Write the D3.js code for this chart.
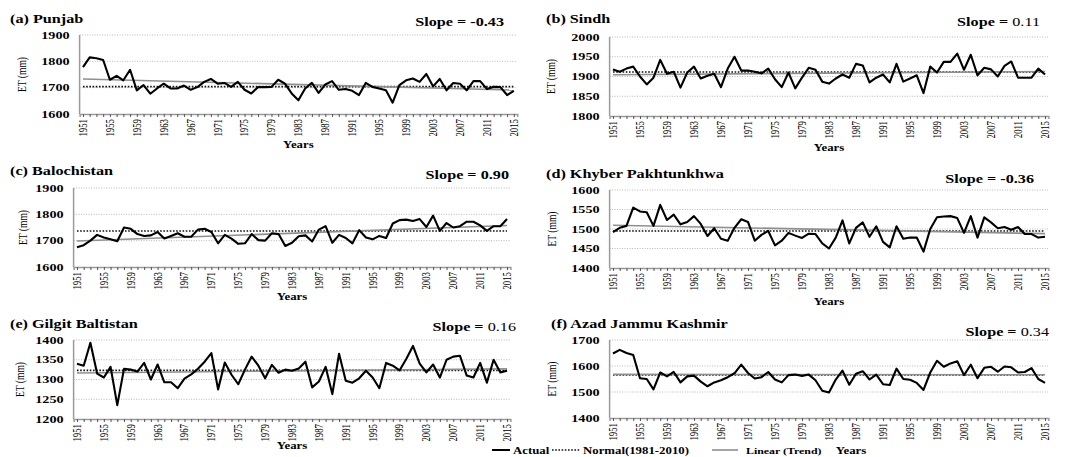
<!DOCTYPE html>
<html>
<head>
<meta charset="utf-8">
<script src="https://cdn.jsdelivr.net/npm/d3@7"></script>
<style>
  body { margin: 0; background: #fff; }
  svg { display: block; }
</style>
</head>
<body>
<svg id="chart" width="1070" height="457"></svg>
<script>
// ---- data: annual evapotranspiration (mm), 1951-2015 ----
const years = d3.range(1951, 2016);
const yearTickLabels = d3.range(1951, 2016, 4);

const punjab = [1778,1815,1812,1805,1730,1745,1728,1768,1690,1710,
  1677,1697,1715,1697,1697,1708,1692,1702,1722,1733,
  1715,1718,1703,1722,1692,1678,1702,1702,1703,1730,
  1715,1678,1652,1697,1718,1680,1712,1725,1692,1695,
  1688,1672,1718,1703,1697,1690,1643,1710,1728,1735,
  1722,1752,1705,1733,1690,1718,1715,1690,1725,1725,
  1695,1703,1702,1672,1688];
const sindh = [1918,1912,1920,1925,1900,1880,1897,1942,1907,1912,
  1872,1910,1925,1895,1902,1907,1873,1920,1950,1915,
  1915,1912,1908,1920,1893,1873,1910,1870,1897,1922,
  1917,1887,1882,1895,1905,1897,1932,1928,1885,1897,
  1905,1885,1932,1887,1895,1903,1858,1925,1910,1937,
  1937,1958,1917,1955,1903,1922,1918,1900,1927,1938,
  1897,1897,1897,1920,1905];
const balochistan = [1675,1683,1700,1722,1712,1705,1698,1750,1745,1725,
  1718,1720,1733,1708,1718,1728,1715,1715,1742,1745,
  1733,1690,1722,1708,1688,1690,1725,1702,1700,1728,
  1725,1680,1692,1717,1720,1697,1742,1755,1692,1722,
  1710,1690,1740,1712,1705,1718,1710,1765,1778,1780,
  1775,1782,1752,1795,1737,1767,1750,1755,1772,1772,
  1758,1737,1755,1755,1782];
const khyber = [1492,1503,1508,1555,1545,1543,1508,1562,1523,1537,
  1512,1518,1533,1513,1482,1502,1475,1470,1503,1525,
  1518,1470,1485,1495,1458,1470,1490,1483,1477,1488,
  1487,1463,1450,1478,1522,1463,1503,1517,1480,1507,
  1467,1453,1507,1475,1478,1478,1442,1500,1530,1532,
  1533,1528,1490,1533,1478,1530,1517,1502,1505,1498,
  1505,1487,1487,1478,1480];
const gilgit = [1340,1335,1393,1315,1305,1332,1235,1327,1325,1320,
  1342,1300,1338,1293,1293,1278,1302,1313,1327,1345,
  1367,1275,1343,1312,1288,1325,1358,1335,1303,1337,
  1317,1325,1322,1328,1345,1280,1295,1332,1263,1365,
  1297,1292,1303,1322,1305,1278,1342,1335,1323,1352,
  1385,1340,1318,1338,1305,1350,1358,1360,1310,1305,
  1342,1292,1350,1318,1322];
const ajk = [1648,1662,1650,1642,1553,1550,1510,1575,1560,1577,
  1537,1560,1563,1540,1522,1537,1545,1557,1572,1605,
  1573,1552,1557,1577,1548,1537,1565,1567,1562,1567,
  1545,1505,1498,1548,1582,1528,1570,1580,1548,1567,
  1530,1527,1590,1550,1547,1535,1508,1575,1620,1597,
  1610,1618,1565,1605,1553,1593,1597,1578,1598,1595,
  1575,1577,1592,1550,1535];

const panelTitles = ["(a) Punjab", "(b) Sindh", "(c) Balochistan",
  "(d) Khyber Pakhtunkhwa", "(e) Gilgit Baltistan", "(f) Azad Jammu  Kashmir"];
const slopeValues = ["-0.43", "0.11", "0.90", "-0.36", "0.16", "0.34"];
const slopeSignificant = [true, false, true, true, false, false];
const yTickValues = [
  [1600, 1700, 1800, 1900],
  [1800, 1850, 1900, 1950, 2000],
  [1600, 1700, 1800, 1900],
  [1400, 1450, 1500, 1550, 1600],
  [1200, 1250, 1300, 1350, 1400],
  [1400, 1500, 1600, 1700]
];
const seriesList = [punjab, sindh, balochistan, khyber, gilgit, ajk];
const normalPeriod = [1981, 2010];
const legendLabels = ["Actual", "Normal(1981-2010)", "Linear (Trend)"];

// ---- layout ----
const FONT = "'Liberation Serif', 'Times New Roman', 'DejaVu Serif', serif";
const SX = 1.35;   // horizontal stretch applied to all lettering
const boxes = [
  { x0: 79.6, x1: 517.2, y0: 35, y1: 114, title: [10, 23], slope: [504, 26], years: 148, etX: 22 },
  { x0: 609.6, x1: 1048.4, y0: 37, y1: 116, title: [546, 23], slope: [1040, 26], years: 151, etX: 551 },
  { x0: 73.6, x1: 510.4, y0: 188, y1: 267, title: [10, 175], slope: [509, 179], years: 300, etX: 23 },
  { x0: 609.6, x1: 1048.4, y0: 190, y1: 268, title: [546, 178], slope: [1034, 183], years: 305, etX: 552 },
  { x0: 73.6, x1: 510.4, y0: 340, y1: 419, title: [10, 328], slope: [516, 331], years: 449, etX: 20 },
  { x0: 609.6, x1: 1048.4, y0: 340, y1: 418, title: [551, 328], slope: [1049, 336], years: null, etX: 552 }
];

const svg = d3.select("#chart").attr("font-family", FONT);

function label(g, x, y, str, opt = {}) {
  const t = g.append("text")
    .attr("transform", `translate(${x},${y}) scale(${SX},1)` + (opt.rotate ? " rotate(-90)" : ""))
    .attr("font-family", FONT)
    .attr("font-size", opt.size || 10)
    .attr("font-weight", opt.bold ? "bold" : "normal")
    .attr("fill", "#000")
    .attr("text-anchor", opt.anchor || "start");
  if (opt.dy) t.attr("dy", opt.dy);
  t.text(str);
  return t;
}

function linearFit(xs, ys) {
  const mx = d3.mean(xs), my = d3.mean(ys);
  let num = 0, den = 0;
  xs.forEach((x, i) => { num += (x - mx) * (ys[i] - my); den += (x - mx) ** 2; });
  const b = num / den;
  return x => my + b * (x - mx);
}

seriesList.forEach((values, p) => {
  const b = boxes[p];
  const ticks = yTickValues[p];
  const g = svg.append("g");

  const x = d3.scalePoint().domain(years).range([b.x0, b.x1]).padding(0.5);
  const y = d3.scaleLinear().domain(d3.extent(ticks)).range([b.y1, b.y0]);

  // gridlines
  g.selectAll("line.grid").data(ticks.slice(1)).join("line")
    .attr("x1", b.x0).attr("x2", b.x1)
    .attr("y1", d => y(d)).attr("y2", d => y(d))
    .attr("stroke", "#b8b8b8").attr("stroke-width", 1)
    .attr("stroke-dasharray", "1,1.5");

  // y axis labels
  ticks.forEach(t => label(g, b.x0 - 10, y(t), t, { size: 10.5, bold: true, anchor: "end", dy: "0.35em" }));

  // x axis: line, yearly ticks, labels every fourth year
  const xAxis = d3.axisBottom(x).tickSize(3).tickFormat("");
  const ax = g.append("g").attr("transform", `translate(0,${b.y1})`).call(xAxis);
  ax.select(".domain").attr("stroke", "#9a9a9a").attr("stroke-width", 1.5);
  ax.selectAll(".tick line").attr("stroke", "#555");
  yearTickLabels.forEach(yr =>
    label(g, x(yr), b.y1 + 5, yr, { size: 8.8, rotate: true, anchor: "end", dy: "0.33em" }));

  // y axis line
  g.append("line").attr("x1", b.x0).attr("x2", b.x0).attr("y1", b.y0).attr("y2", b.y1)
    .attr("stroke", "#9a9a9a").attr("stroke-width", 1.5);

  // normal (mean over reference period)
  const normal = d3.mean(values.filter((v, i) => years[i] >= normalPeriod[0] && years[i] <= normalPeriod[1]));
  g.append("line")
    .attr("x1", x(years[0])).attr("x2", x(years[years.length - 1]))
    .attr("y1", y(normal)).attr("y2", y(normal))
    .attr("stroke", "#111").attr("stroke-width", 1.6).attr("stroke-dasharray", "1.6,1.6");

  // linear trend
  const fit = linearFit(years, values);
  g.append("line")
    .attr("x1", x(years[0])).attr("x2", x(years[years.length - 1]))
    .attr("y1", y(fit(years[0]))).attr("y2", y(fit(years[years.length - 1])))
    .attr("stroke", "#8f8f8f").attr("stroke-width", 1.6);

  // actual series
  g.append("path")
    .datum(values)
    .attr("fill", "none").attr("stroke", "#000").attr("stroke-width", 2.1)
    .attr("stroke-linejoin", "round")
    .attr("d", d3.line().x((d, i) => x(years[i])).y(d => y(d)));

  // titles and annotations
  label(g, b.title[0], b.title[1], panelTitles[p], { size: 12, bold: true });
  const s = label(g, b.slope[0], b.slope[1], "Slope = ", { size: 12, bold: true, anchor: "end" });
  s.append("tspan").attr("font-weight", slopeSignificant[p] ? "bold" : "normal").text(slopeValues[p]);
  label(g, b.etX, (b.y0 + b.y1) / 2, "ET (mm)", { size: 9.5, rotate: true, anchor: "middle", dy: "0.33em" });
  if (b.years !== null) label(g, (b.x0 + b.x1) / 2, b.years, "Years", { size: 9.5, bold: true, anchor: "middle" });
});

// legend along the bottom
const lg = svg.append("g");
const ly = 450;
lg.append("line").attr("x1", 492).attr("x2", 510).attr("y1", ly).attr("y2", ly)
  .attr("stroke", "#000").attr("stroke-width", 2);
label(lg, 513, ly + 3.5, legendLabels[0], { size: 9.5, bold: true });
lg.append("line").attr("x1", 552).attr("x2", 580).attr("y1", ly).attr("y2", ly)
  .attr("stroke", "#111").attr("stroke-width", 1.6).attr("stroke-dasharray", "1.6,1.6");
label(lg, 583, ly + 3.5, legendLabels[1], { size: 9.5, bold: true });
lg.append("line").attr("x1", 712).attr("x2", 738).attr("y1", ly).attr("y2", ly)
  .attr("stroke", "#8f8f8f").attr("stroke-width", 1.6);
label(lg, 746, ly + 3.5, legendLabels[2], { size: 8.8, bold: true });
label(lg, 851, ly + 3.5, "Years", { size: 9.5, bold: true, anchor: "middle" });
</script>
</body>
</html>
